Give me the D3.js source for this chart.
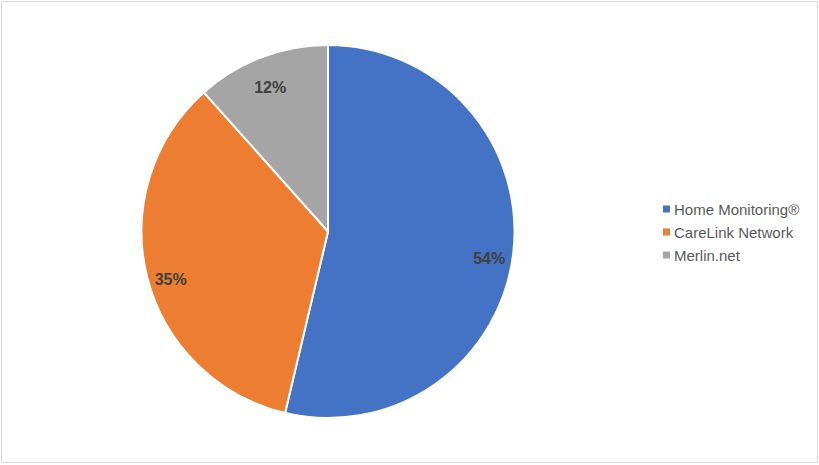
<!DOCTYPE html>
<html><head><meta charset="utf-8">
<script src="https://cdn.jsdelivr.net/npm/d3@7"></script>
<style>body{margin:0;background:#fff;}svg{display:block;}</style>
</head><body>
<svg id="chart" width="819" height="465"></svg>
<script>
const categories = ["Home Monitoring®", "CareLink Network", "Merlin.net"];
const values = [53.7, 34.7, 11.6];
const labels = ["54%", "35%", "12%"];
const colors = ["#4472C4", "#ED7D31", "#A5A5A5"];

const svg = d3.select("#chart");
svg.append("rect").attr("x", 1.5).attr("y", 1.5).attr("width", 816).attr("height", 461)
  .attr("fill", "#fff").attr("stroke", "#D9D9D9").attr("stroke-width", 1);

const cx = 328, cy = 231.5, R = 186.5;
const pie = d3.pie().sort(null).value(d => d)(values);
const arc = d3.arc().innerRadius(0).outerRadius(R);
const labelArc = d3.arc().innerRadius(R * 0.87).outerRadius(R * 0.87);

const g = svg.append("g").attr("transform", `translate(${cx},${cy})`);
g.selectAll("path").data(pie).join("path")
  .attr("d", arc).attr("fill", (d, i) => colors[i])
  .attr("stroke", "#fff").attr("stroke-width", 2).attr("stroke-linejoin", "round");

g.selectAll("text").data(pie).join("text")
  .attr("transform", d => { const c = labelArc.centroid(d); return `translate(${c[0]},${c[1] + 8})`; })
  .attr("text-anchor", "middle").attr("dominant-baseline", "central")
  .attr("font-family", "Liberation Sans, Arial, sans-serif")
  .attr("font-size", 16).attr("font-weight", "bold").attr("fill", "#404040")
  .text((d, i) => labels[i]);

const legendY = d3.scalePoint().domain(categories).range([209, 255]);
const lg = svg.append("g");
const items = lg.selectAll("g").data(categories).join("g")
  .attr("transform", d => `translate(663,${legendY(d)})`);
items.append("rect").attr("x", 0).attr("y", -3.5).attr("width", 7).attr("height", 7)
  .attr("fill", (d, i) => colors[i]);
items.append("text").attr("x", 11).attr("y", 0).attr("dominant-baseline", "central")
  .attr("font-family", "Liberation Sans, Arial, sans-serif").attr("font-size", 15)
  .attr("fill", "#595959").text(d => d);
</script>
</body></html>
